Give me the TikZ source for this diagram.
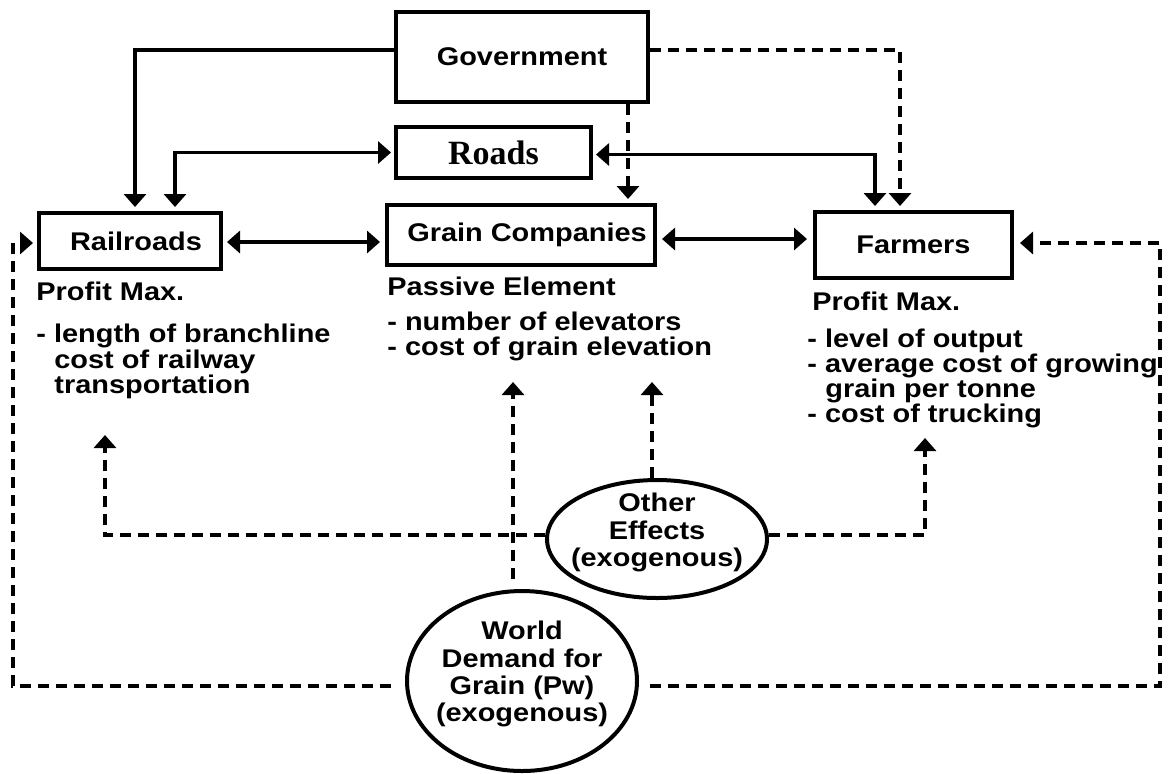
\documentclass[tikz,border=0pt]{standalone}
\usepackage{fontspec}
\setmainfont{Liberation Sans}[FakeStretch=1.13]
\newfontfamily\roadsfont{Liberation Serif}
\usetikzlibrary{arrows.meta,shapes.geometric,calc}
\tikzset{
  lbl/.style={font=\fontsize{12.8}{14}\selectfont\bfseries,inner sep=0pt},
  txt/.style={lbl,anchor=base west},
  ctxt/.style={lbl,anchor=base},
  box/.style={draw,line width=2pt,inner sep=0pt,lbl},
  oval/.style={draw,ellipse,line width=2pt,inner sep=0pt},
  conn/.style={line width=1.8pt},
  dconn/.style={line width=1.9pt,dash pattern=on 5.5pt off 3.5pt},
}
\begin{document}
\begin{tikzpicture}[x=0.5pt,y=-0.5pt,>={Triangle[length=6.5pt,width=11pt]}]
\useasboundingbox[fill=white] (0,0) rectangle (1170,773);

% boxes
\node[box,minimum width=126pt,minimum height=45pt] (gov) at (522,57) {Government};
\node[box,minimum width=97.5pt,minimum height=25.5pt,font=\roadsfont\fontsize{17}{20}\selectfont\bfseries] (roads) at (493.5,152.5) {Roads};
\node[box,minimum width=91pt,minimum height=28pt] (rail) at (130,241) {\hspace{6pt}Railroads};
\node[box,minimum width=134pt,minimum height=30pt] (grain) at (521,235) {\hspace{6pt}Grain Companies};
\node[box,minimum width=98.5pt,minimum height=33pt] (farm) at (913.5,245) {Farmers\hspace{6pt}};

% ellipses
\node[oval,minimum width=110pt,minimum height=59pt] (other) at (657,539) {};
\node[ctxt] (oth1) at (657,511) {Other};
\node[ctxt] (oth2) at (657,539) {Effects};
\node[ctxt] (oth3) at (657,566) {(exogenous)};

\node[oval,minimum width=115pt,minimum height=90pt] (world) at (522,681) {};
\node[ctxt] (wd1) at (522,639) {World};
\node[ctxt] (wd2) at (522,667) {Demand for};
\node[ctxt] (wd3) at (522,694) {Grain (Pw)};
\node[ctxt] (wd4) at (522,721) {(exogenous)};

% text blocks
\node[txt] (rt1) at (36,300) {Profit Max.};
\node[txt] (rt2) at (36,342) {- length of branchline};
\node[txt] (rt3) at (54,368) {cost of railway};
\node[txt] (rt4) at (54,393) {transportation};

\node[txt] (gt1) at (387,295) {Passive Element};
\node[txt] (gt2) at (387,330) {- number of elevators};
\node[txt] (gt3) at (387,355) {- cost of grain elevation};

\node[txt] (ft1) at (812,310) {Profit Max.};
\node[txt] (ft2) at (807,347) {- level of output};
\node[txt] (ft3) at (807,372) {- average cost of growing};
\node[txt] (ft4) at (825,397) {grain per tonne};
\node[txt] (ft5) at (807,422) {- cost of trucking};

% helper coordinates
\coordinate (rc) at (1160,243);
\coordinate (lc) at (13,243);
\coordinate (railtip) at (105,435);
\coordinate (farmtip) at (925,438);
\coordinate (graintipa) at (513,382);
\coordinate (graintipb) at (652,382);

% solid connectors
\draw[conn,->] ($(gov.west)+(0,-7)$) -| ($(rail.north)+(5,-4)$);
\draw[conn,<->] ($(roads.west)+(-3,0)$) -| ($(rail.north)+(45,-4)$);
\draw[conn,<->] ($(roads.east)+(3,2)$) -| ($(farm.north)+(-38.5,-4)$);
\draw[conn,<->] ($(rail.east)+(4,1)$) coordinate (r1) -- ($(r1 -| grain.west)+(-5,0)$);
\draw[conn,<->] ($(grain.east)+(5,4)$) coordinate (g2) -- ($(g2 -| farm.west)+(-6,0)$);

% dashed connectors
\draw[dconn,->] ($(gov.east)+(0,-7)$) -| ($(farm.north)+(-13.5,-4)$);
\draw[dconn,->] ($(gov.south)+(106,0)$) coordinate (g1) -- ($(g1 |- grain.north)+(0,-4)$);
\draw[dconn,->] ($(world.east)+(11,5)$) -| (rc) -- ($(farm.east)+(6,-2)$);
\draw[dconn,->] ($(world.west)+(-14,5)$) -| (lc) -- ($(rail.west)+(-4,2)$);
\draw[dconn,->] ($(other.west)+(0,-4)$) -| (railtip);
\draw[dconn,->] ($(other.east)+(0,-4)$) -| (farmtip);
\draw[dconn,->] ($(other.north)+(-5,0)$) -- (graintipb);
\draw[dconn,->] ($(world.north)+(-9,-10)$) -- (graintipa);
\end{tikzpicture}
\end{document}
